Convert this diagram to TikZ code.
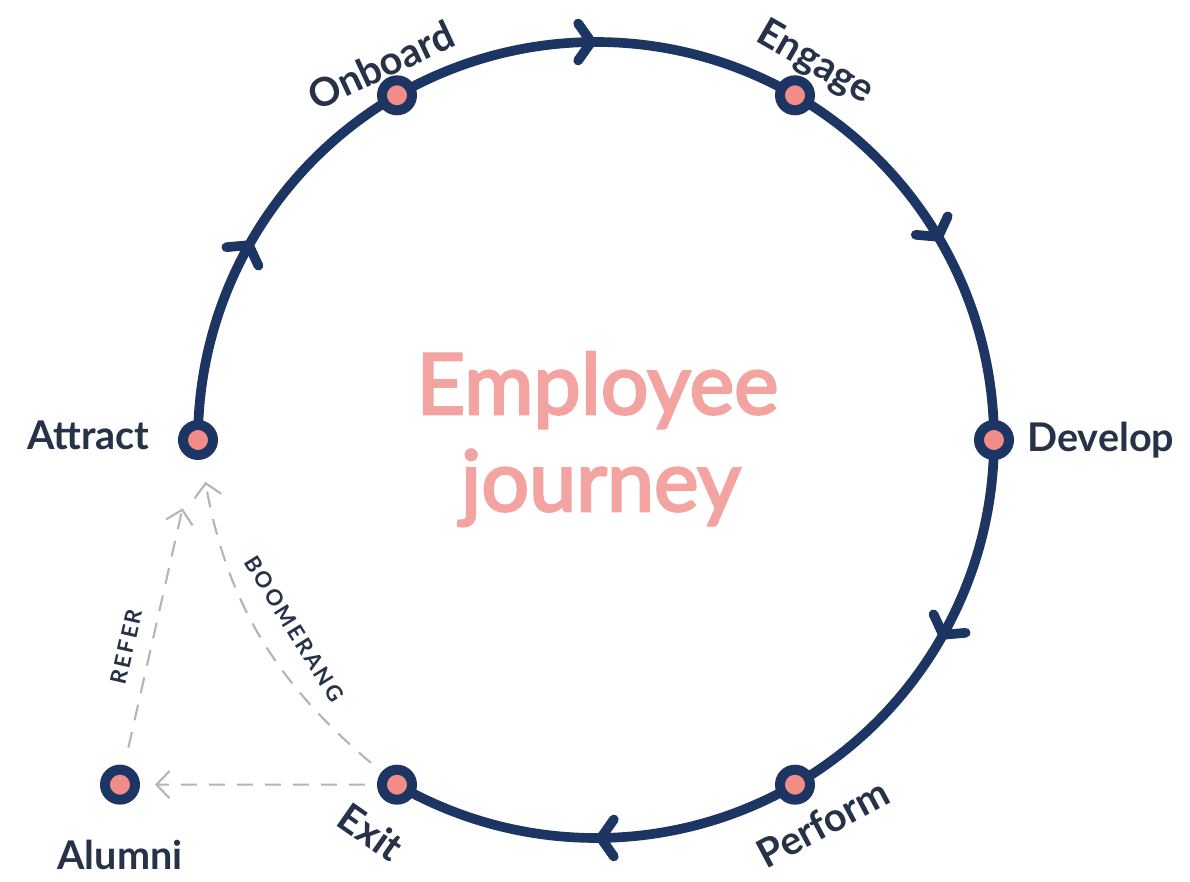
\documentclass[tikz,border=0pt]{standalone}
\usepackage{fontspec}
\setmainfont{Lato}
\newfontfamily\tagfont[LetterSpace=12]{Lato}
\newfontfamily\titlefont[FakeBold=3]{Lato}
\usetikzlibrary{arrows.meta,decorations.markings,backgrounds,positioning}

\definecolor{navy}{HTML}{1C3563}
\definecolor{salmon}{HTML}{F28C86}
\definecolor{titlepink}{HTML}{F3A3A0}
\definecolor{ink}{HTML}{263248}
\definecolor{dashgray}{HTML}{B4B4B4}

\tikzset{
  stage/.style={circle, draw=navy, fill=salmon, line width=0.2cm, minimum size=0.6cm, inner sep=0pt},
  ring/.style={navy, line width=5.5pt, line cap=round, postaction={decorate},
    decoration={markings, mark=at position 0.5 with {\arrow{Straight Barb[length=2.6mm,width=7.4mm,round]}}}},
  link/.style={dashgray, line width=1.2pt, dash pattern=on 3.2mm off 2.4mm, -{Straight Barb[length=2.6mm,width=5.4mm]}},
  stagename/.style={ink, font=\fontsize{22.5}{26}\selectfont\bfseries, inner sep=0pt},
  linkname/.style={ink, font=\tagfont\fontsize{12.5}{14}\selectfont\bfseries, inner sep=0pt},
  titletext/.style={titlepink, font=\titlefont\fontsize{48}{55}\selectfont, inner sep=0pt},
}

\begin{document}
\begin{tikzpicture}
  \useasboundingbox (-11.92,-8.84) rectangle (11.88,8.8);
  % stages
  \node[stage] (attract) at (180:7.96) {};
  \node[stage] (onboard) at (120:7.96) {};
  \node[stage] (engage)  at (60:7.96) {};
  \node[stage] (develop) at (0:7.96) {};
  \node[stage] (perform) at (-60:7.96) {};
  \node[stage] (exit)    at (-120:7.96) {};
  \node[stage] (alumni)  at (-9.52,-6.893) {};
  % the journey
  \begin{scope}[on background layer]
    \foreach \from/\ang in {attract/180,onboard/120,engage/60,develop/0,perform/-60}
      \draw[ring] (\from.center) arc[start angle=\ang, delta angle=-60, radius=7.96];
  \end{scope}
  % names
  \node[stagename, anchor=base east] at (-8.92,-0.2) {Attract};
  \node[stagename, rotate=25] at (-4.3,7.5) {Onboard};
  \node[stagename, rotate=-30] at (4.38,7.54) {Engage};
  \node[stagename, anchor=base west] at (8.62,-0.24) {Develop};
  \node[stagename, rotate=28] at (4.54,-7.66) {Perform};
  \node[stagename, rotate=-35] at (-4.5,-7.84) {Exit};
  \node[stagename] at (-9.52,-8.3) {Alumni};
  \node[titletext, anchor=base] (title) at (0.03,0.52) {Employee};
  \node[titletext, anchor=base] (title2) at (0.1,-1.42) {journey};
  % ways back
  \draw[link, shorten <=0.36cm, shorten >=1cm] (alumni) -- (attract)
    node[pos=0.37, above=3mm, sloped, linkname] {REFER};
  \draw[link, shorten <=0.28cm, shorten >=0.45cm] (exit) to[bend left=20]
    node[pos=0.46, above=4.5mm, sloped, linkname] {BOOMERANG} (attract);
  \draw[link, shorten <=0.24cm, shorten >=0.3cm] (exit) -- (alumni);
\end{tikzpicture}
\end{document}
